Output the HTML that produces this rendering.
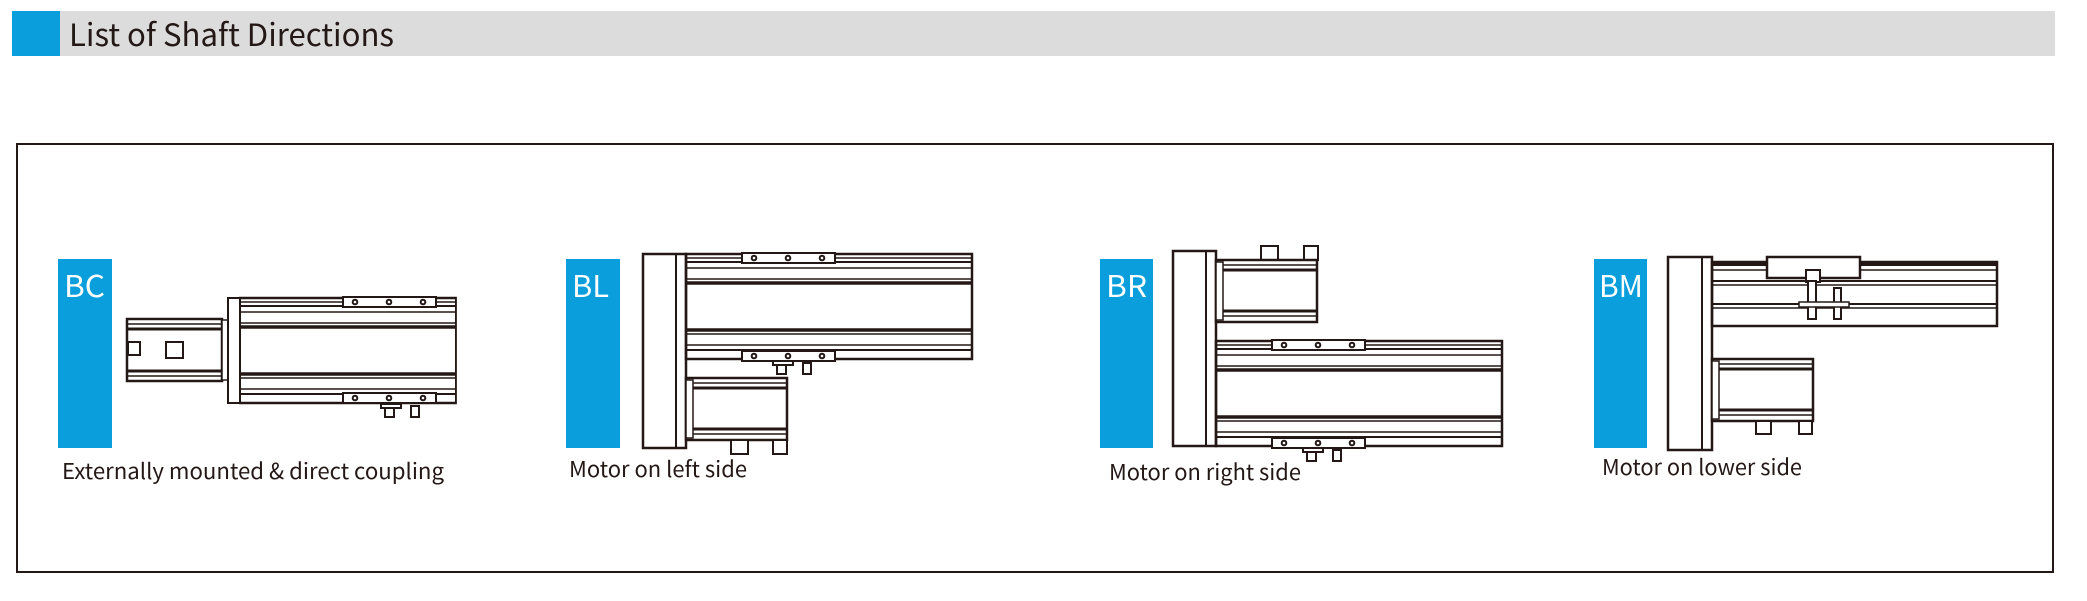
<!DOCTYPE html>
<html><head><meta charset="utf-8"><style>
html,body{margin:0;padding:0;background:#fff;width:2087px;height:601px;overflow:hidden}
svg{display:block}
text{font-family:"Noto Sans CJK SC","Liberation Sans",sans-serif}
</style></head><body>
<svg width="2087" height="601" viewBox="0 0 2087 601" xmlns="http://www.w3.org/2000/svg">
<defs>
<g id="rail286" fill="none" stroke="#231815">
  <rect x="0" y="0" width="286" height="105" stroke-width="2.5"/>
  <line x1="0" y1="4" x2="286" y2="4" stroke-width="1.5"/>
  <line x1="0" y1="8" x2="286" y2="8" stroke-width="2"/>
  <line x1="0" y1="14" x2="286" y2="14" stroke-width="1.5"/>
  <line x1="0" y1="25" x2="286" y2="25" stroke-width="1.5"/>
  <line x1="0" y1="29" x2="286" y2="29" stroke-width="3.5"/>
  <line x1="0" y1="76" x2="286" y2="76" stroke-width="3.5"/>
  <line x1="0" y1="80" x2="286" y2="80" stroke-width="1.5"/>
  <line x1="0" y1="91" x2="286" y2="91" stroke-width="1.5"/>
  <line x1="0" y1="96" x2="286" y2="96" stroke-width="2"/>
</g>
<g id="carr" fill="#fff" stroke="#231815" stroke-width="2">
  <rect x="0" y="0" width="93" height="10"/>
  <circle cx="12" cy="5" r="2.3"/><circle cx="46" cy="5" r="2.3"/><circle cx="80" cy="5" r="2.3"/>
</g>
<g id="feet" fill="#fff" stroke="#231815" stroke-width="2">
  <rect x="0" y="0" width="20" height="4"/>
  <rect x="4" y="4" width="9" height="9"/>
  <rect x="30" y="2" width="8" height="11"/>
</g>
<g id="motor" fill="#fff" stroke="#231815">
  <rect x="0" y="0" width="101" height="62" stroke-width="2.5"/>
  <rect x="0" y="2" width="7" height="58" stroke-width="1.5"/>
  <line x1="7" y1="5" x2="101" y2="5" stroke-width="1.5"/>
  <line x1="7" y1="10" x2="101" y2="10" stroke-width="3"/>
  <line x1="7" y1="51" x2="101" y2="51" stroke-width="3"/>
  <line x1="7" y1="56" x2="101" y2="56" stroke-width="1.5"/>
</g>
</defs>

<!-- Header -->
<rect x="12" y="11" width="2043" height="45" fill="#dcdcdc"/>
<rect x="12" y="11" width="48" height="45" fill="#0a9edc"/>
<text x="69" y="46" font-size="31" fill="#231815" textLength="325" lengthAdjust="spacingAndGlyphs">List of Shaft Directions</text>

<!-- Frame -->
<rect x="17" y="144" width="2036" height="428" fill="none" stroke="#231815" stroke-width="2"/>

<!-- BC -->
<rect x="58" y="259" width="54" height="189" fill="#0a9edc"/>
<text x="64" y="297" font-size="30" fill="#fff" textLength="41" lengthAdjust="spacingAndGlyphs">BC</text>
<text x="62" y="479" font-size="22" fill="#231815" textLength="382" lengthAdjust="spacingAndGlyphs">Externally mounted &amp; direct coupling</text>
<g transform="translate(127,319)">
  <rect x="0" y="0" width="95" height="62" fill="#fff" stroke="#231815" stroke-width="2.5"/>
  <line x1="0" y1="5" x2="95" y2="5" stroke="#231815" stroke-width="1.5"/>
  <line x1="0" y1="10" x2="95" y2="10" stroke="#231815" stroke-width="3"/>
  <line x1="0" y1="52" x2="95" y2="52" stroke="#231815" stroke-width="3"/>
  <line x1="0" y1="57" x2="95" y2="57" stroke="#231815" stroke-width="1.5"/>
  <rect x="1" y="23" width="12" height="13" fill="none" stroke="#231815" stroke-width="2"/>
  <rect x="39" y="23" width="17" height="16" fill="none" stroke="#231815" stroke-width="2"/>
  <rect x="95" y="1" width="6" height="60" fill="#fff" stroke="#231815" stroke-width="1.5"/>
</g>
<rect x="228" y="298" width="12" height="105" fill="#fff" stroke="#231815" stroke-width="2"/>
<g transform="translate(240,298) scale(0.755,1)"><use href="#rail286"/></g>
<use href="#carr" x="343" y="297"/>
<use href="#carr" x="343" y="393"/>
<use href="#feet" x="381" y="404"/>

<!-- BL -->
<rect x="566" y="259" width="54" height="189" fill="#0a9edc"/>
<text x="572" y="297" font-size="30" fill="#fff" textLength="37" lengthAdjust="spacingAndGlyphs">BL</text>
<text x="569" y="477" font-size="22" fill="#231815" textLength="178" lengthAdjust="spacingAndGlyphs">Motor on left side</text>
<rect x="643" y="254" width="43" height="194" fill="#fff" stroke="#231815" stroke-width="2.5"/>
<line x1="676" y1="254" x2="676" y2="448" stroke="#231815" stroke-width="2"/>
<use href="#rail286" x="686" y="254"/>
<use href="#carr" x="742" y="253"/>
<use href="#carr" x="742" y="351"/>
<use href="#feet" x="773" y="361"/>
<use href="#motor" x="686" y="378"/>
<rect x="731" y="440" width="17" height="14" fill="#fff" stroke="#231815" stroke-width="2"/>
<rect x="773" y="440" width="14" height="14" fill="#fff" stroke="#231815" stroke-width="2"/>

<!-- BR -->
<rect x="1100" y="259" width="53" height="189" fill="#0a9edc"/>
<text x="1106" y="297" font-size="30" fill="#fff" textLength="41" lengthAdjust="spacingAndGlyphs">BR</text>
<text x="1109" y="480" font-size="22" fill="#231815" textLength="192" lengthAdjust="spacingAndGlyphs">Motor on right side</text>
<rect x="1173" y="251" width="43" height="195" fill="#fff" stroke="#231815" stroke-width="2.5"/>
<line x1="1206" y1="251" x2="1206" y2="446" stroke="#231815" stroke-width="2"/>
<rect x="1261" y="246" width="17" height="14" fill="#fff" stroke="#231815" stroke-width="2"/>
<rect x="1304" y="246" width="14" height="14" fill="#fff" stroke="#231815" stroke-width="2"/>
<use href="#motor" x="1216" y="260"/>
<use href="#rail286" x="1216" y="341"/>
<use href="#carr" x="1272" y="340"/>
<use href="#carr" x="1272" y="438"/>
<use href="#feet" x="1303" y="448"/>

<!-- BM -->
<rect x="1594" y="259" width="53" height="189" fill="#0a9edc"/>
<text x="1599" y="297" font-size="30" fill="#fff" textLength="44" lengthAdjust="spacingAndGlyphs">BM</text>
<text x="1602" y="475" font-size="22" fill="#231815" textLength="200" lengthAdjust="spacingAndGlyphs">Motor on lower side</text>
<rect x="1668" y="257" width="44" height="193" fill="#fff" stroke="#231815" stroke-width="2.5"/>
<line x1="1702" y1="257" x2="1702" y2="450" stroke="#231815" stroke-width="2"/>
<g fill="none" stroke="#231815">
  <rect x="1712" y="262" width="285" height="64" stroke-width="2.5"/>
  <rect x="1712" y="261" width="285" height="5" fill="#231815" stroke="none"/>
  <line x1="1712" y1="270" x2="1997" y2="270" stroke-width="1.5"/>
  <line x1="1712" y1="281" x2="1997" y2="281" stroke-width="2"/>
  <line x1="1712" y1="285" x2="1997" y2="285" stroke-width="1.5"/>
  <line x1="1712" y1="304" x2="1997" y2="304" stroke-width="2"/>
  <line x1="1712" y1="308" x2="1997" y2="308" stroke-width="1.5"/>
</g>
<rect x="1767" y="257" width="93" height="21" fill="#fff" stroke="#231815" stroke-width="2.5"/>
<rect x="1806" y="270" width="14" height="12" fill="#fff" stroke="#231815" stroke-width="2"/>
<rect x="1808" y="281" width="8" height="38" fill="#fff" stroke="#231815" stroke-width="2"/>
<rect x="1834" y="288" width="7" height="31" fill="#fff" stroke="#231815" stroke-width="2"/>
<rect x="1799" y="302" width="50" height="5" fill="#fff" stroke="#231815" stroke-width="1.5"/>
<use href="#motor" x="1712" y="359"/>
<rect x="1756" y="421" width="15" height="13" fill="#fff" stroke="#231815" stroke-width="2"/>
<rect x="1799" y="421" width="13" height="13" fill="#fff" stroke="#231815" stroke-width="2"/>
</svg>
</body></html>
